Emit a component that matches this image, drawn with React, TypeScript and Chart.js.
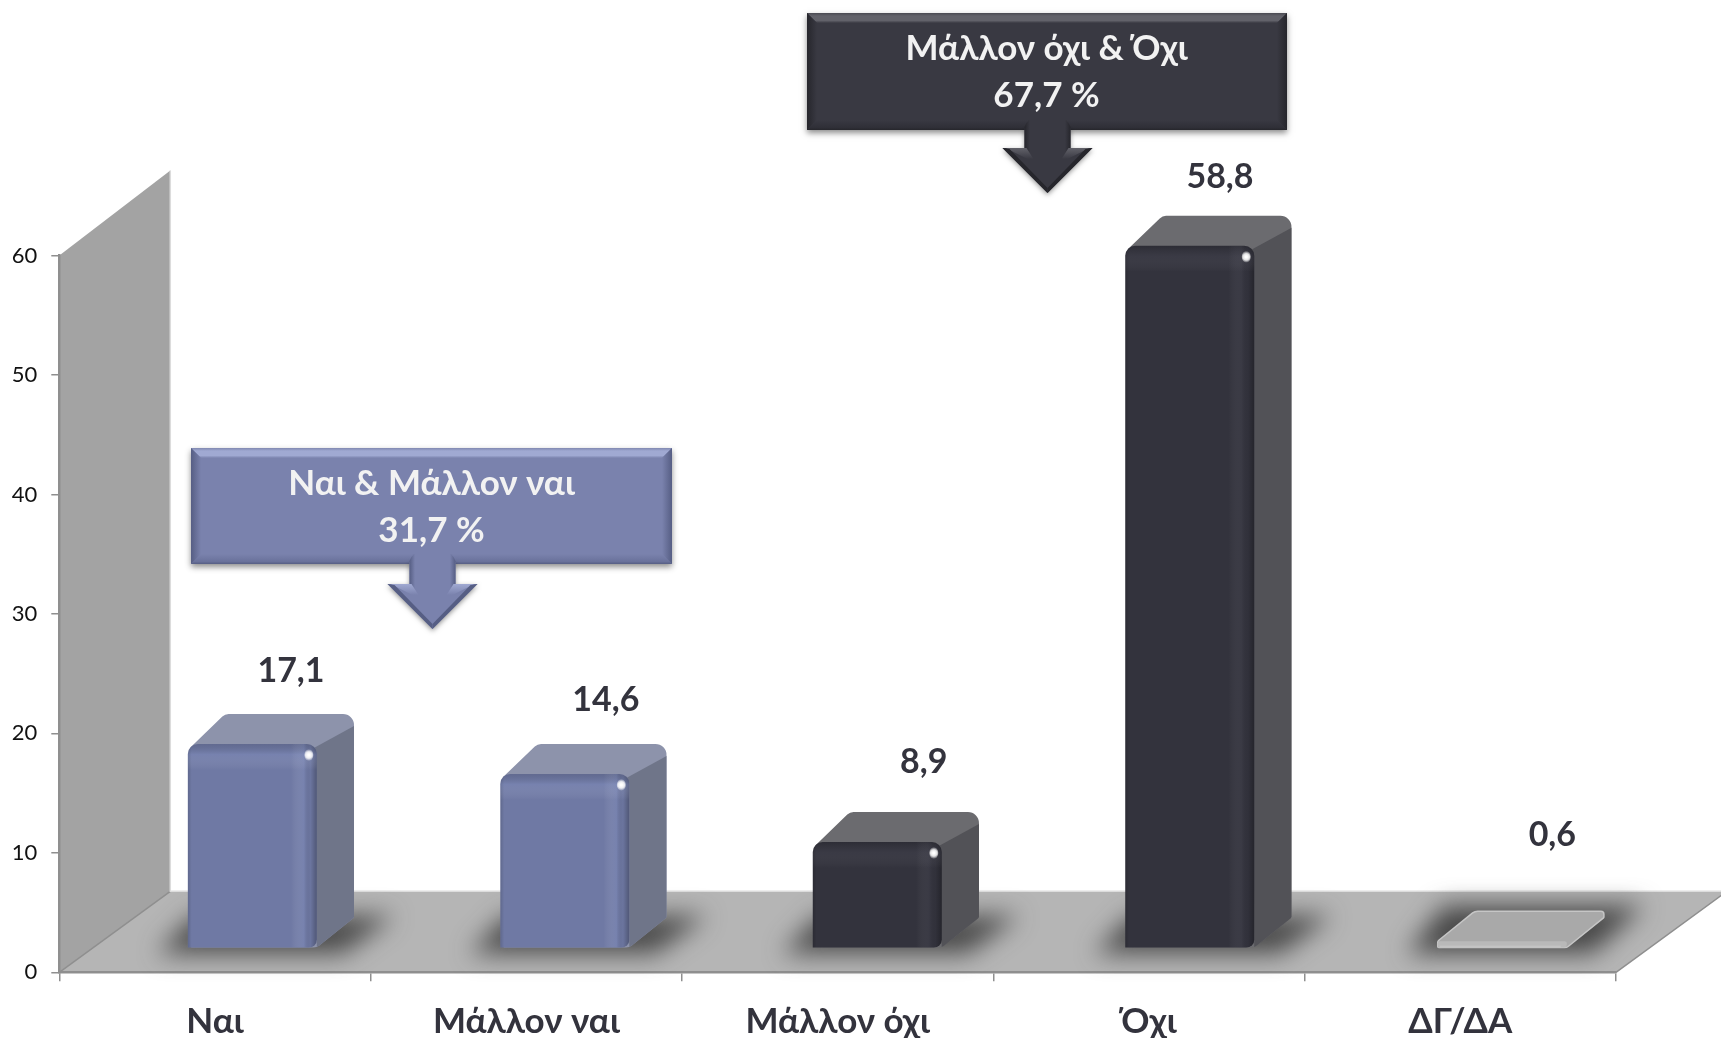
import React, { useEffect, useRef } from "react";
import { Chart, registerables } from "chart.js";

Chart.register(...registerables);

const categories = ["Ναι", "Μάλλον ναι", "Μάλλον όχι", "Όχι", "ΔΓ/ΔΑ"];
const values = [17.1, 14.6, 8.9, 58.8, 0.6];
const valueLabels = ["17,1", "14,6", "8,9", "58,8", "0,6"];
const yTicks = [0, 10, 20, 30, 40, 50, 60];
const labelShiftX = [76, 79.5, 86, 71, 92];
const labelShiftY = [-97, -98, -104, -93, -130];
const calloutBlueText = ["Ναι & Μάλλον ναι", "31,7 %"];
const calloutDarkText = ["Μάλλον όχι & Όχι", "67,7 %"];

const FONT = "Lato, 'Open Sans', 'Noto Sans', sans-serif";
const W = 1721;
const H = 1038;
const FRONT_SX = 1.00364;
const FRONT_DX = 36.6;
const FRONT_DY = -24;
const DEPTH_X = 37;
const DEPTH_Y = 30;

const palettes = {
  blue: { front: "#6f79a4", top: "#8d93ab", side: "#6f7589" },
  dark: { front: "#33333d", top: "#6b6b6f", side: "#525257" },
  gray: { front: "#b9b9b9", top: "#a9a9a9", side: "#a9a9a9" },
};
const barPalettes = [palettes.blue, palettes.blue, palettes.dark, palettes.dark, palettes.gray];

function poly(ctx: CanvasRenderingContext2D, pts: number[][], fill: any) {
  ctx.beginPath();
  pts.forEach((p, i) => (i ? ctx.lineTo(p[0], p[1]) : ctx.moveTo(p[0], p[1])));
  ctx.closePath();
  ctx.fillStyle = fill;
  ctx.fill();
}

function roundPoly(ctx: CanvasRenderingContext2D, pts: number[][], radii: number[]) {
  ctx.beginPath();
  const n = pts.length;
  const s = pts[0];
  ctx.moveTo((s[0] + pts[n - 1][0]) / 2, (s[1] + pts[n - 1][1]) / 2);
  for (let i = 0; i < n; i++) {
    const a = pts[i];
    const b = pts[(i + 1) % n];
    ctx.arcTo(a[0], a[1], b[0], b[1], radii[i]);
  }
  ctx.closePath();
}

function callout(
  ctx: CanvasRenderingContext2D,
  box: { l: number; r: number; t: number; b: number },
  arrow: { cx: number; shaft: number; head: number; neck: number; tip: number },
  c: { base: string; light: string; dark: string; edge: string; side: string },
  lines: string[],
  lineY: number[]
) {
  const { l, r, t, b } = box;
  const bev = 10;
  ctx.save();
  ctx.shadowColor = "rgba(0,0,0,0.45)";
  ctx.shadowBlur = 6;
  ctx.shadowOffsetY = 3;
  ctx.fillStyle = c.base;
  ctx.fillRect(l, t, r - l, b - t);
  ctx.restore();
  const gt = ctx.createLinearGradient(0, t, 0, t + bev);
  gt.addColorStop(0, c.edge);
  gt.addColorStop(0.3, c.light);
  gt.addColorStop(0.75, c.light);
  gt.addColorStop(1, c.base);
  poly(ctx, [[l, t], [r, t], [r - bev, t + bev], [l + bev, t + bev]], gt);
  const gb = ctx.createLinearGradient(0, b - bev, 0, b);
  gb.addColorStop(0, c.base);
  gb.addColorStop(0.75, c.side);
  gb.addColorStop(1, c.dark);
  poly(ctx, [[l, b], [r, b], [r - bev, b - bev], [l + bev, b - bev]], gb);
  const gl = ctx.createLinearGradient(l, 0, l + bev, 0);
  gl.addColorStop(0, c.dark);
  gl.addColorStop(1, c.base);
  poly(ctx, [[l, t], [l + bev, t + bev], [l + bev, b - bev], [l, b]], gl);
  const gr = ctx.createLinearGradient(r, 0, r - bev, 0);
  gr.addColorStop(0, c.dark);
  gr.addColorStop(1, c.base);
  poly(ctx, [[r, t], [r - bev, t + bev], [r - bev, b - bev], [r, b]], gr);

  const { cx, shaft, head, neck, tip } = arrow;
  ctx.save();
  ctx.shadowColor = "rgba(0,0,0,0.4)";
  ctx.shadowBlur = 5;
  ctx.shadowOffsetY = 2;
  ctx.beginPath();
  ctx.moveTo(cx - shaft, b - 2);
  ctx.lineTo(cx - shaft, neck);
  ctx.lineTo(cx - head, neck);
  ctx.lineTo(cx, tip);
  ctx.lineTo(cx + head, neck);
  ctx.lineTo(cx + shaft, neck);
  ctx.lineTo(cx + shaft, b - 2);
  ctx.closePath();
  ctx.fillStyle = c.base;
  ctx.fill();
  ctx.restore();
  // rounded top of the arrow shaft, over the box
  const sg = ctx.createLinearGradient(cx - shaft, 0, cx + shaft, 0);
  sg.addColorStop(0, c.dark);
  sg.addColorStop(0.12, c.base);
  sg.addColorStop(0.88, c.base);
  sg.addColorStop(1, c.dark);
  ctx.beginPath();
  ctx.moveTo(cx - shaft, neck + 8);
  ctx.lineTo(cx - shaft, b - 3);
  ctx.quadraticCurveTo(cx - shaft + 3, b - 12, cx - shaft + 12, b - 12);
  ctx.lineTo(cx + shaft - 12, b - 12);
  ctx.quadraticCurveTo(cx + shaft - 3, b - 12, cx + shaft, b - 3);
  ctx.lineTo(cx + shaft, neck + 8);
  ctx.closePath();
  ctx.fillStyle = sg;
  ctx.fill();
  // light wedges on the arrow head wings
  const gw = ctx.createLinearGradient(0, neck, 0, neck + 11);
  gw.addColorStop(0, c.light);
  gw.addColorStop(1, c.base);
  poly(ctx, [[cx - head + 3, neck], [cx - shaft + 2, neck], [cx - shaft + 9, neck + 11], [cx - head + 25, neck + 11]], gw);
  poly(ctx, [[cx + head - 3, neck], [cx + shaft - 2, neck], [cx + shaft - 9, neck + 11], [cx + head - 25, neck + 11]], gw);
  // thin dark lower edges of the head
  poly(ctx, [[cx - head, neck], [cx, tip], [cx, tip - 5], [cx - head + 7, neck + 1]], c.dark);
  poly(ctx, [[cx + head, neck], [cx, tip], [cx, tip - 5], [cx + head - 7, neck + 1]], c.dark);

  ctx.fillStyle = "#f2f2f2";
  ctx.font = `bold 35px ${FONT}`;
  ctx.textAlign = "center";
  ctx.textBaseline = "middle";
  lines.forEach((s, i) => ctx.fillText(s, cx - 1, lineY[i]));
}

const scenePlugin = {
  id: "scene",
  beforeDraw(chart: any) {
    const { ctx, scales } = chart;
    const xL = chart.chartArea.left;
    const xR = chart.chartArea.right;
    const y0 = scales.y.getPixelForValue(0);
    const yTop = scales.y.getPixelForValue(60);
    const wallDx = 111;
    const floorBack = y0 - 81;
    ctx.save();
    poly(ctx, [[xL, yTop], [xL + wallDx, yTop - 85], [xL + wallDx, floorBack], [xL, y0]], "#a3a3a3");
    poly(ctx, [[xL, y0], [xL + wallDx, floorBack], [xR + wallDx, floorBack], [xR, y0]], "#b5b5b5");
    ctx.strokeStyle = "#8f8f8f";
    ctx.lineWidth = 1.5;
    ctx.beginPath();
    ctx.moveTo(xL, y0);
    ctx.lineTo(xL + wallDx, floorBack);
    ctx.moveTo(xR, y0);
    ctx.lineTo(xR + wallDx, floorBack);
    ctx.stroke();
    ctx.strokeStyle = "#dcdcdc";
    ctx.beginPath();
    ctx.moveTo(xL + wallDx, yTop - 85);
    ctx.lineTo(xL + wallDx, floorBack);
    ctx.lineTo(xR + wallDx, floorBack);
    ctx.stroke();
    ctx.restore();
  },
  beforeDatasetsDraw(chart: any) {
    const { ctx } = chart;
    const meta = chart.getDatasetMeta(0);
    ctx.save();
    ctx.transform(FRONT_SX, 0, 0, 1, FRONT_DX, FRONT_DY);
    meta.data.forEach((bar: any, i: number) => {
      const x0 = bar.x - bar.width / 2;
      const x1 = bar.x + bar.width / 2;
      const top = bar.y;
      const base = bar.base;
      const pal = barPalettes[i];
      // floor shadow
      ctx.save();
      ctx.filter = "blur(12px)";
      const up = i === 4 ? 42 : 32;
      poly(
        ctx,
        [[x0 - 30, base + 6], [x0 + 6, base - up], [x1 + DEPTH_X + 40, base - up], [x1 + 26, base + 6]],
        i === 4 ? "rgba(45,45,45,0.8)" : "rgba(45,45,45,0.78)"
      );
      ctx.restore();
      // top and side faces share one rounded outline
      ctx.save();
      const inset = i === 4 ? 0 : 3;
      const outline = [
        [x0 + inset, top + inset],
        [x0 + DEPTH_X, top - DEPTH_Y],
        [x1 + DEPTH_X, top - DEPTH_Y],
        [x1 + DEPTH_X, base - DEPTH_Y],
        [x1, base],
        [x0 + inset, base],
      ];
      const radii = i === 4 ? [3, 8, 3, 1, 6, 1] : [1, 9, 11, 2, 9, 1];
      roundPoly(ctx, outline, radii);
      ctx.fillStyle = pal.top;
      ctx.fill();
      if (i === 4) {
        ctx.strokeStyle = "#c6c6c6";
        ctx.lineWidth = 1.5;
        ctx.stroke();
      } else {
        ctx.clip();
        poly(
          ctx,
          [[x1 - 3, top + 4], [x1 + DEPTH_X + 2, top - DEPTH_Y + 11], [x1 + DEPTH_X + 2, base - DEPTH_Y], [x1, base + 2]],
          pal.side
        );
      }
      ctx.restore();
    });
    ctx.restore();
  },
  beforeDatasetDraw(chart: any) {
    chart.ctx.save();
    chart.ctx.transform(FRONT_SX, 0, 0, 1, FRONT_DX, FRONT_DY);
  },
  afterDatasetDraw(chart: any) {
    const { ctx } = chart;
    const meta = chart.getDatasetMeta(0);
    meta.data.forEach((bar: any, i: number) => {
      const x0 = bar.x - bar.width / 2;
      const x1 = bar.x + bar.width / 2;
      const w = x1 - x0;
      const top = bar.y;
      const base = bar.base;
      if (i === 4) return;
      ctx.save();
      ctx.beginPath();
      ctx.roundRect(x0, top, w, base - top, [10, 10, 8, 0]);
      ctx.clip();
      const light = i < 2 ? "rgba(150,165,215,0.2)" : "rgba(120,120,135,0.1)";
      const h = ctx.createLinearGradient(x0, 0, x1, 0);
      h.addColorStop(0, "rgba(0,0,0,0.14)");
      h.addColorStop(0.03, "rgba(0,0,0,0)");
      h.addColorStop(0.8, "rgba(255,255,255,0)");
      h.addColorStop(0.9, light);
      h.addColorStop(0.95, "rgba(0,0,0,0.03)");
      h.addColorStop(1, "rgba(0,0,0,0.28)");
      ctx.fillStyle = h;
      ctx.fillRect(x0, top, w, base - top);
      const v = ctx.createLinearGradient(0, top, 0, top + 26);
      v.addColorStop(0, "rgba(0,0,0,0.12)");
      v.addColorStop(0.4, light);
      v.addColorStop(1, "rgba(255,255,255,0)");
      ctx.fillStyle = v;
      ctx.fillRect(x0, top, w, 26);
      // specular point at the upper right corner
      const sx = x1 - 8;
      const sy = top + 11;
      const g = ctx.createRadialGradient(sx, sy, 1, sx, sy, 6);
      g.addColorStop(0, "rgba(255,255,255,1)");
      g.addColorStop(0.45, "rgba(255,255,255,0.85)");
      g.addColorStop(1, "rgba(255,255,255,0)");
      ctx.fillStyle = g;
      ctx.beginPath();
      ctx.ellipse(sx, sy, 4.5, 6, 0, 0, Math.PI * 2);
      ctx.fill();
      ctx.restore();
    });
    // light lip along the foot of the flat bar
    const flat = meta.data[4];
    ctx.fillStyle = "#c4c4c4";
    ctx.fillRect(flat.x - flat.width / 2 + 2, flat.base - 2, flat.width - 8, 2);
    ctx.restore();
  },
  afterDatasetsDraw(chart: any) {
    const { ctx } = chart;
    const meta = chart.getDatasetMeta(0);
    ctx.save();
    ctx.fillStyle = "#33333d";
    ctx.font = `bold 34px ${FONT}`;
    ctx.textAlign = "center";
    ctx.textBaseline = "middle";
    meta.data.forEach((bar: any, i: number) => {
      ctx.fillText(valueLabels[i], bar.x + labelShiftX[i], bar.y + labelShiftY[i]);
    });
    callout(
      ctx,
      { l: 191, r: 672, t: 448, b: 564 },
      { cx: 432.5, shaft: 23, head: 45, neck: 584, tip: 629 },
      { base: "#7a82ad", light: "#a0a9d2", dark: "#565e84", edge: "#8088b0", side: "#6a729b" },
      calloutBlueText,
      [484, 531]
    );
    callout(
      ctx,
      { l: 807, r: 1287, t: 13, b: 130 },
      { cx: 1047.5, shaft: 23, head: 45, neck: 148, tip: 193 },
      { base: "#393942", light: "#62626a", dark: "#26262c", edge: "#4a4a52", side: "#2f2f37" },
      calloutDarkText,
      [49, 96]
    );
    ctx.restore();
  },
};

export default function App() {
  const ref = useRef<HTMLCanvasElement>(null);
  useEffect(() => {
    const chart = new Chart(ref.current as HTMLCanvasElement, {
      type: "bar",
      data: {
        labels: categories,
        datasets: [
          {
            data: values,
            backgroundColor: barPalettes.map((p) => p.front),
            borderWidth: 0,
            borderSkipped: false,
            borderRadius: (c: any) =>
              c.dataIndex === 4
                ? { topLeft: 2, topRight: 2, bottomRight: 3, bottomLeft: 0 }
                : { topLeft: 10, topRight: 10, bottomRight: 8, bottomLeft: 0 },
            barPercentage: 0.413,
            categoryPercentage: 1,
          },
        ],
      },
      options: {
        responsive: false,
        animation: false,
        devicePixelRatio: 1,
        layout: { padding: { left: 0, right: 105, top: 255.5, bottom: 0 } },
        plugins: { legend: { display: false }, tooltip: { enabled: false } },
        scales: {
          x: {
            afterFit: (s: any) => {
              s.height = H - 972.3;
            },
            grid: { drawOnChartArea: false, drawTicks: true, tickLength: 9, color: "#8f8f8f", lineWidth: 1.5 },
            border: { color: "#8f8f8f", width: 2.5 },
            ticks: {
              padding: 19,
              maxRotation: 0,
              autoSkip: false,
              color: "#33333d",
              font: { family: FONT, size: 35, weight: "bold" },
            },
          },
          y: {
            min: 0,
            max: 60,
            afterFit: (s: any) => {
              s.width = 59.3;
            },
            afterBuildTicks: (s: any) => {
              s.ticks = yTicks.map((value) => ({ value }));
            },
            grid: { drawOnChartArea: false, drawTicks: true, tickLength: 8, color: "#8f8f8f", lineWidth: 1.5 },
            border: { color: "#8f8f8f", width: 2.5 },
            ticks: {
              padding: 14,
              color: "#111111",
              font: { family: FONT, size: 22 },
            },
          },
        },
      },
      plugins: [scenePlugin],
    } as any);
    return () => chart.destroy();
  }, []);
  return (
    <div style={{ position: "fixed", left: 0, top: 0, width: W, height: H, background: "#ffffff" }}>
      <canvas ref={ref} width={W} height={H} style={{ display: "block", width: W, height: H }} />
    </div>
  );
}
